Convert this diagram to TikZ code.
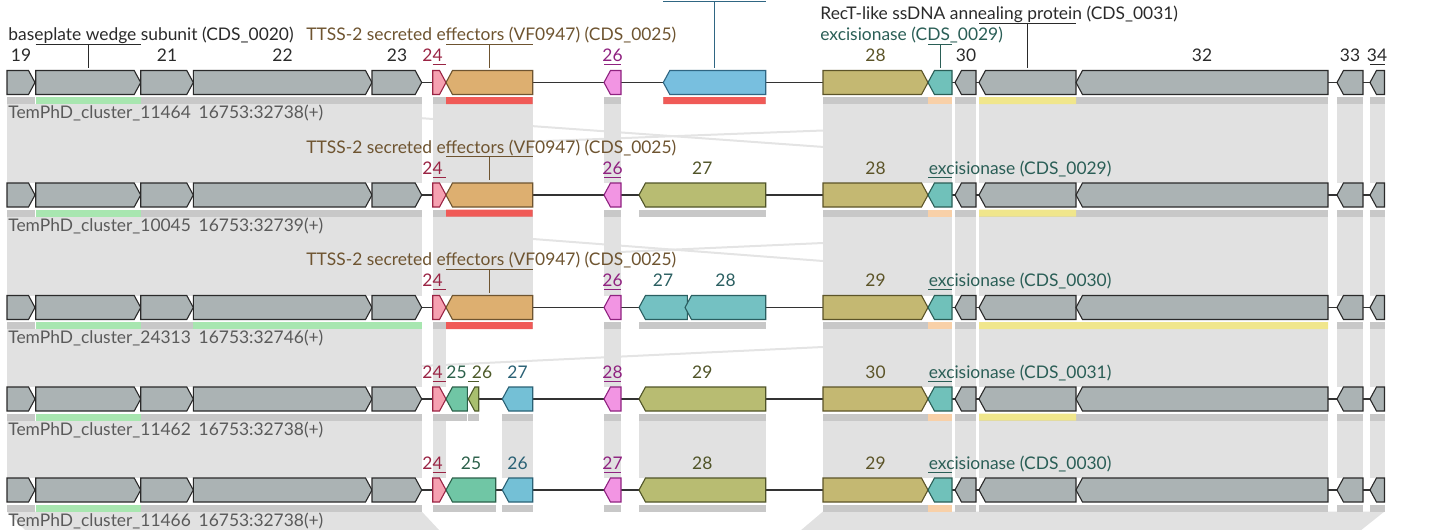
\documentclass[tikz,border=0pt]{standalone}
\usepackage{fontspec}
\setmainfont{Lato}
\definecolor{gy}{HTML}{ABB3B4}\definecolor{gyD}{HTML}{2A2A2A}
\definecolor{pk}{HTML}{F6A1B1}\definecolor{pkD}{HTML}{9A2444}
\definecolor{or}{HTML}{DDAF70}\definecolor{orD}{HTML}{6E5430}
\definecolor{mg}{HTML}{F295E3}\definecolor{mgD}{HTML}{8F2280}
\definecolor{bl}{HTML}{78BFDF}\definecolor{blD}{HTML}{2F6683}
\definecolor{ol}{HTML}{C4B872}\definecolor{olD}{HTML}{5C5428}
\definecolor{og}{HTML}{B8BC72}\definecolor{ogD}{HTML}{505428}
\definecolor{tl}{HTML}{70C1BA}\definecolor{tlD}{HTML}{2A5E56}
\definecolor{cy}{HTML}{74C1C2}\definecolor{cyD}{HTML}{2B5F61}
\definecolor{gr}{HTML}{70C6A5}\definecolor{grD}{HTML}{2B604A}
\definecolor{so}{HTML}{A8BF6E}\definecolor{soD}{HTML}{4D5A29}
\definecolor{bx}{HTML}{74C0D6}\definecolor{bxD}{HTML}{2A6175}
\definecolor{barGray}{HTML}{C8C8C8}
\definecolor{barGreen}{HTML}{A8E6B0}
\definecolor{barRed}{HTML}{F05A57}
\definecolor{barPeach}{HTML}{F8D0A8}
\definecolor{barYellow}{HTML}{F0E68C}
\definecolor{linkGray}{HTML}{E1E1E1}
\definecolor{crossGray}{HTML}{E4E4E4}
\definecolor{clusterText}{HTML}{5A5A5A}

\newcommand\gene[6]{%
  \pgfmathsetmacro\headlen{min(6.5,#3-#2)}%
  \ifnum#5>0
    \draw[genebox,fill=#6,draw=#6D] (#2,#4-12) -- (#3-\headlen,#4-12) -- (#3,#4) -- (#3-\headlen,#4+12) -- (#2,#4+12) -- cycle;
  \else
    \draw[genebox,fill=#6,draw=#6D] (#3,#4-12) -- (#2+\headlen,#4-12) -- (#2,#4) -- (#2+\headlen,#4+12) -- (#3,#4+12) -- cycle;
  \fi
  \fill[barGray] (#2,#4+14.5) rectangle (#3,#4+21.5);
  \coordinate (#1) at ({(#2+#3)/2},#4-15);%
}

\begin{document}
\begin{tikzpicture}[x=0.5pt,y=-0.5pt,
    genebox/.style={line width=0.55pt,line join=miter},
    bbone/.style={line width=0.8pt,draw=black!80},
    link/.style={fill=linkGray},
    cross/.style={draw=crossGray,line width=1pt},
    lab/.style={font=\fontsize{8.7}{10}\selectfont,inner sep=0pt,anchor=base,text=#1},
    wlab/.style={lab=#1,anchor=base west},
    clab/.style={font=\fontsize{8.7}{10}\selectfont,inner sep=0pt,anchor=base west,text=clusterText},
    tick/.style={line width=0.5pt,draw=#1}
  ]
  \useasboundingbox (0,0) rectangle (1432,530);

  \draw[cross] (300,109.5) -- (950,156);
  \draw[cross] (533,141.5) -- (823,130.5);
  \draw[cross] (533,239) -- (823,261);
  \draw[cross] (620,252) -- (823,243);
  \draw[cross] (400,367) -- (823,347);

  \foreach \ya/\yb in {104/183, 216.5/295.5, 329/387, 420.5/478}{
    \foreach \xa/\xb in {7/421.7, 432.7/446, 604/621, 823/928, 928/952, 955/976, 979/1076, 1076/1328, 1337/1363, 1370/1384.5}
      \fill[link] (\xa,\ya) rectangle (\xb,\yb);
  }
  \fill[link] (446,104) rectangle (532.7,183);
  \fill[link] (446,216.5) rectangle (532.7,295.5);
  \fill[link] (502.3,420.5) rectangle (532.7,478);
  \fill[link] (639,420.5) rectangle (765.7,478);
  \fill[link] (7,511.5) -- (421.7,511.5) -- (440,531) -- (26,531) -- cycle;
  \fill[link] (823,511.5) -- (1384.5,511.5) -- (1360,531) -- (800,531) -- cycle;

  \foreach \r/\yc in {1/82.5,2/195,3/307.5,4/399,5/490}{
    \draw[bbone] (7,\yc) -- (1384.5,\yc);
    \gene{r\r g19}{7}{35}{\yc}{1}{gy}
    \gene{r\r g20}{35.7}{140.7}{\yc}{1}{gy}
    \gene{r\r g21}{140.7}{193.3}{\yc}{1}{gy}
    \gene{r\r g22}{193.3}{372}{\yc}{1}{gy}
    \gene{r\r g23}{372}{421.7}{\yc}{1}{gy}
    \gene{r\r g24}{432.7}{446}{\yc}{1}{pk}
    \gene{r\r gm}{604}{621}{\yc}{-1}{mg}
    \gene{r\r go}{823}{928}{\yc}{1}{ol}
    \gene{r\r gx}{928}{952}{\yc}{-1}{tl}
    \gene{r\r g30}{955}{976}{\yc}{-1}{gy}
    \gene{r\r g31}{979}{1076}{\yc}{-1}{gy}
    \gene{r\r g32}{1076}{1328}{\yc}{-1}{gy}
    \gene{r\r g33}{1337}{1363}{\yc}{-1}{gy}
    \gene{r\r g34}{1370}{1384.5}{\yc}{-1}{gy}
    \fill[barGreen] (35.7,\yc+14.5) rectangle (141.2,\yc+21.5);
    \fill[barPeach] (928,\yc+14.5) rectangle (952,\yc+21.5);
    \node[lab=pkD] (r\r l24) at (432.5,\yc-21) {24};
    \draw[tick=pkD] (432.7,\yc-18) -- (446,\yc-18);
  }

  \gene{r1g25}{446}{532.7}{82.5}{-1}{or}
  \gene{r1g27}{663.3}{765.7}{82.5}{-1}{bl}
  \gene{r2g25}{446}{532.7}{195}{-1}{or}
  \gene{r2g27}{639}{765.7}{195}{-1}{og}
  \gene{r3g25}{446}{532.7}{307.5}{-1}{or}
  \gene{r3g27}{639}{687.3}{307.5}{-1}{cy}
  \gene{r3g28}{685}{765.7}{307.5}{-1}{cy}
  \gene{r4g25}{446}{467.3}{399}{-1}{gr}
  \gene{r4g26}{468.3}{478.7}{399}{-1}{so}
  \gene{r4g27}{502.3}{532.7}{399}{-1}{bx}
  \gene{r4g29}{639}{765.7}{399}{-1}{og}
  \gene{r5g25}{446}{495.7}{490}{-1}{gr}
  \gene{r5g26}{502.3}{532.7}{490}{-1}{bx}
  \gene{r5g28}{639}{765.7}{490}{-1}{og}

  \fill[barRed] (446,97) rectangle (532.7,104) (663.3,97) rectangle (765.7,104)
    (446,209.5) rectangle (532.7,216.5) (446,322) rectangle (532.7,329);
  \fill[barYellow] (979,97) rectangle (1076,104) (979,209.5) rectangle (1076,216.5)
    (979,322) rectangle (1328,329) (979,413.5) rectangle (1076,420.5);
  \fill[barGreen] (193.3,322) rectangle (421.7,329);

  % row 1
  \node[lab=gyD] (r1l19) at (21,61.5) {19};
  \node[lab=gyD] (r1l21) at (167,61.5) {21};
  \node[lab=gyD] (r1l22) at (282.5,61.5) {22};
  \node[lab=gyD] (r1l23) at (397,61.5) {23};
  \node[lab=mgD] (r1l26) at (612.5,61.5) {26};
  \draw[tick=mgD] (604,64.5) -- (621,64.5);
  \node[lab=olD] (r1l28) at (875.5,61.5) {28};
  \node[lab=gyD] (r1l30) at (966,61.5) {30};
  \node[lab=gyD] (r1l32) at (1202,61.5) {32};
  \node[lab=gyD] (r1l33) at (1350,61.5) {33};
  \node[lab=gyD] (r1l34) at (1377,61.5) {34};
  \draw[tick=gyD] (1370,64.5) -- (1384.5,64.5);
  \node[wlab=gyD] (r1l20) at (8,40.5) {baseplate wedge subunit (CDS\_0020)};
  \draw[tick=gyD] (35.7,44) -- (141.2,44) (r1g20 |- 0,44) -- (r1g20);
  \node[wlab=orD] (r1l25) at (306,40.5) {TTSS-2 secreted effectors (VF0947) (CDS\_0025)};
  \draw[tick=orD] (446,44) -- (532.7,44) (r1g25 |- 0,44) -- (r1g25);
  \node[wlab=tlD] (r1l29) at (820,40.5) {excisionase (CDS\_0029)};
  \draw[tick=tlD] (928,44) -- (952,44) (r1gx |- 0,44) -- (r1gx);
  \node[wlab=gyD] (r1l31) at (820,19.5) {RecT-like ssDNA annealing protein (CDS\_0031)};
  \draw[tick=gyD] (979,23.5) -- (1076,23.5) (r1g31 |- 0,23.5) -- (r1g31);
  \coordinate (r1l27) at (714.5,1.7);
  \draw[tick=blD] (663.3,1.7) -- (765.7,1.7) (r1l27) -- (r1g27);

  % row 2
  \node[wlab=orD] (r2l25) at (306,153) {TTSS-2 secreted effectors (VF0947) (CDS\_0025)};
  \draw[tick=orD] (446,156.5) -- (532.7,156.5) (r2g25 |- 0,156.5) -- (r2g25);
  \node[lab=mgD] (r2l26) at (612.5,174) {26};
  \draw[tick=mgD] (604,177) -- (621,177);
  \node[lab=ogD] (r2l27) at (702.3,174) {27};
  \node[lab=olD] (r2l28) at (875.5,174) {28};
  \node[wlab=tlD] (r2l29) at (928.5,174) {excisionase (CDS\_0029)};
  \draw[tick=tlD] (928,177) -- (952,177);

  % row 3
  \node[wlab=orD] (r3l25) at (306,265.5) {TTSS-2 secreted effectors (VF0947) (CDS\_0025)};
  \draw[tick=orD] (446,269) -- (532.7,269) (r3g25 |- 0,269) -- (r3g25);
  \node[lab=mgD] (r3l26) at (612.5,286.5) {26};
  \draw[tick=mgD] (604,289.5) -- (621,289.5);
  \node[lab=cyD] (r3l27) at (663,286.5) {27};
  \node[lab=cyD] (r3l28) at (725.5,286.5) {28};
  \node[lab=olD] (r3l29) at (875.5,286.5) {29};
  \node[wlab=tlD] (r3l30) at (928.5,286.5) {excisionase (CDS\_0030)};
  \draw[tick=tlD] (928,289.5) -- (952,289.5);

  % row 4
  \node[lab=grD] (r4l25) at (456.5,378) {25};
  \node[lab=soD] (r4l26) at (482,378) {26};
  \draw[tick=soD] (468.3,381) -- (478.7,381);
  \node[lab=bxD] (r4l27) at (517.5,378) {27};
  \node[lab=mgD] (r4l28) at (612.5,378) {28};
  \draw[tick=mgD] (604,381) -- (621,381);
  \node[lab=ogD] (r4l29) at (702.3,378) {29};
  \node[lab=olD] (r4l30) at (875.5,378) {30};
  \node[wlab=tlD] (r4l31) at (928.5,378) {excisionase (CDS\_0031)};
  \draw[tick=tlD] (928,381) -- (952,381);

  % row 5
  \node[lab=grD] (r5l25) at (471,469) {25};
  \node[lab=bxD] (r5l26) at (517.5,469) {26};
  \node[lab=mgD] (r5l27) at (612.5,469) {27};
  \draw[tick=mgD] (604,472) -- (621,472);
  \node[lab=ogD] (r5l28) at (702.3,469) {28};
  \node[lab=olD] (r5l29) at (875.5,469) {29};
  \node[wlab=tlD] (r5l30) at (928.5,469) {excisionase (CDS\_0030)};
  \draw[tick=tlD] (928,472) -- (952,472);

  \node[clab] (r1name) at (8,118.5) {TemPhD\_cluster\_11464\hspace{0.45em}16753:32738(+)};
  \node[clab] (r2name) at (8,231) {TemPhD\_cluster\_10045\hspace{0.45em}16753:32739(+)};
  \node[clab] (r3name) at (8,343.5) {TemPhD\_cluster\_24313\hspace{0.45em}16753:32746(+)};
  \node[clab] (r4name) at (8,435) {TemPhD\_cluster\_11462\hspace{0.45em}16753:32738(+)};
  \node[clab] (r5name) at (8,526) {TemPhD\_cluster\_11466\hspace{0.45em}16753:32738(+)};
\end{tikzpicture}
\end{document}
